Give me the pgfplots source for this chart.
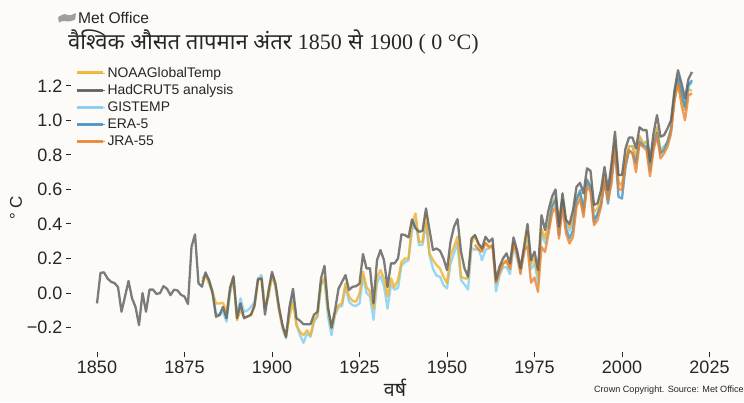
\documentclass[border=0pt]{standalone}
\usepackage{fontspec}
\usepackage{pgfplots}
\pgfplotsset{compat=1.18}
\setmainfont{Liberation Sans}
\newfontfamily\deva[Script=Devanagari]{Noto Sans}
\newfontfamily\serif{Liberation Serif}
\definecolor{bg}{HTML}{FCFBF8}
\definecolor{noaa}{HTML}{F0B02C}
\definecolor{had}{HTML}{5C5C5C}
\definecolor{gis}{HTML}{80CDF2}
\definecolor{era}{HTML}{3D94CB}
\definecolor{jra}{HTML}{E8822F}
\definecolor{txt}{HTML}{262626}
\pgfplotsset{ser/.style={line width=2.3pt, no markers, line join=round, opacity=0.8}}
\begin{document}
\begin{tikzpicture}[x=1pt,y=1pt]
\path[use as bounding box, fill=bg] (0,0) rectangle (744,402);
\begin{axis}[
    at={(71pt,50pt)}, anchor=south west,
    scale only axis, width=649pt, height=292pt,
    xmin=1842.57, xmax=2028, ymin=-0.341, ymax=1.349,
    axis line style={draw=none},
    axis x line*=bottom, axis y line*=left,
    tick align=outside, major tick length=5pt,
    tick style={txt, line width=1pt},
    xtick={1850,1875,1900,1925,1950,1975,2000,2025},
    xticklabels={1850,1875,1900,1925,1950,1975,2000,2025},
    ytick={-0.2,0,0.2,0.4,0.6,0.8,1.0,1.2},
    yticklabels={−0.2,0.0,0.2,0.4,0.6,0.8,1.0,1.2},
    tick label style={font=\fontsize{18}{18}\selectfont, text=txt},
    legend style={at={(0pt,287pt)}, anchor=north west, draw=none, fill=none,
        font=\fontsize{13.9}{14}\selectfont, text=txt, row sep=1.9pt,
        inner sep=0pt, outer sep=0pt, xshift=5pt, legend cell align=left},
    legend image code/.code={\draw[#1, line width=2.6pt] (0pt,0pt) -- (26pt,0pt);\path (0pt,0pt) -- (28pt,0pt);},
    clip=false,
]
\addlegendimage{noaa, opacity=0.85}
\addlegendentry{NOAAGlobalTemp}
\addlegendimage{had, opacity=0.85}
\addlegendentry{HadCRUT5 analysis}
\addlegendimage{gis, opacity=0.85}
\addlegendentry{GISTEMP}
\addlegendimage{era, opacity=0.85}
\addlegendentry{ERA-5}
\addlegendimage{jra, opacity=0.85}
\addlegendentry{JRA-55}

% GISTEMP
\addplot[ser, gis, forget plot] coordinates {
(1880,0.084)(1881,0.104)(1882,0.075)(1883,0.017)(1884,-0.118)(1885,-0.128)(1886,-0.108)(1887,-0.166)(1888,-0.002)(1889,0.075)
(1890,-0.128)(1891,-0.03)(1892,-0.108)(1893,-0.10)(1894,-0.08)(1895,-0.05)(1896,0.084)(1897,0.104)(1898,-0.09)(1899,-0.012)
(1900,0.104)(1901,0.036)(1902,-0.10)(1903,-0.205)(1904,-0.263)(1905,-0.108)(1906,-0.012)(1907,-0.186)(1908,-0.244)(1909,-0.288)
(1910,-0.234)(1911,-0.253)(1912,-0.166)(1913,-0.137)(1914,0.046)(1915,0.075)(1916,-0.137)(1917,-0.244)(1918,-0.128)(1919,-0.08)
(1920,-0.076)(1921,0.04)(1922,-0.05)(1923,-0.07)(1924,-0.075)(1925,-0.06)(1926,0.10)(1927,0.0)(1928,-0.02)(1929,-0.155)
(1930,0.06)(1931,0.10)(1932,0.04)(1933,-0.09)(1934,0.05)(1935,0.02)(1936,0.03)(1937,0.16)(1938,0.18)(1939,0.19)
(1940,0.365)(1941,0.42)(1942,0.277)(1943,0.28)(1944,0.40)(1945,0.22)(1946,0.14)(1947,0.10)(1948,0.095)(1949,0.046)
(1950,0.027)(1951,0.17)(1952,0.23)(1953,0.29)(1954,0.075)(1955,0.05)(1956,0.02)(1957,0.26)(1958,0.25)(1959,0.26)
(1960,0.19)(1961,0.25)(1962,0.26)(1963,0.28)(1964,0.01)(1965,0.10)(1966,0.15)(1967,0.15)(1968,0.11)(1969,0.27)
(1970,0.20)(1971,0.12)(1972,0.22)(1973,0.33)(1974,0.14)(1975,0.17)(1976,0.065)(1977,0.35)(1978,0.29)(1979,0.38)
(1980,0.51)(1981,0.56)(1982,0.37)(1983,0.54)(1984,0.40)(1985,0.36)(1986,0.41)(1987,0.55)(1988,0.57)(1989,0.46)
(1990,0.64)(1991,0.61)(1992,0.43)(1993,0.45)(1994,0.52)(1995,0.67)(1996,0.56)(1997,0.68)(1998,0.86)(1999,0.64)
(2000,0.63)(2001,0.76)(2002,0.85)(2003,0.85)(2004,0.76)(2005,0.90)(2006,0.86)(2007,0.88)(2008,0.75)(2009,0.87)
(2010,0.95)(2011,0.83)(2012,0.85)(2013,0.87)(2014,0.95)(2015,1.12)(2016,1.25)(2017,1.15)(2018,1.06)(2019,1.20)(2020,1.22)
};
% NOAAGlobalTemp
\addplot[ser, noaa, forget plot] coordinates {
(1880,0.065)(1881,0.104)(1882,0.055)(1883,0.007)(1884,-0.06)(1885,-0.06)(1886,-0.056)(1887,-0.108)(1888,0.017)(1889,0.084)
(1890,-0.157)(1891,-0.10)(1892,-0.137)(1893,-0.137)(1894,-0.128)(1895,-0.08)(1896,0.075)(1897,0.084)(1898,-0.08)(1899,-0.02)
(1900,0.104)(1901,0.036)(1902,-0.10)(1903,-0.195)(1904,-0.253)(1905,-0.137)(1906,-0.05)(1907,-0.186)(1908,-0.224)(1909,-0.244)
(1910,-0.215)(1911,-0.244)(1912,-0.157)(1913,-0.128)(1914,0.055)(1915,0.09)(1916,-0.09)(1917,-0.205)(1918,-0.118)(1919,-0.07)
(1920,-0.06)(1921,0.056)(1922,-0.02)(1923,-0.045)(1924,-0.05)(1925,-0.002)(1926,0.124)(1927,0.036)(1928,0.007)(1929,-0.089)
(1930,0.094)(1931,0.133)(1932,0.085)(1933,-0.02)(1934,0.085)(1935,0.036)(1936,0.075)(1937,0.181)(1938,0.20)(1939,0.20)
(1940,0.403)(1941,0.461)(1942,0.297)(1943,0.297)(1944,0.451)(1945,0.229)(1946,0.191)(1947,0.162)(1948,0.143)(1949,0.094)
(1950,0.056)(1951,0.22)(1952,0.268)(1953,0.326)(1954,0.094)(1955,0.085)(1956,0.085)(1957,0.29)(1958,0.33)(1959,0.28)
(1960,0.25)(1961,0.29)(1962,0.26)(1963,0.28)(1964,0.06)(1965,0.12)(1966,0.17)(1967,0.18)(1968,0.14)(1969,0.29)
(1970,0.23)(1971,0.14)(1972,0.24)(1973,0.36)(1974,0.17)(1975,0.20)(1976,0.10)(1977,0.37)(1978,0.32)(1979,0.40)
(1980,0.52)(1981,0.55)(1982,0.42)(1983,0.55)(1984,0.42)(1985,0.38)(1986,0.43)(1987,0.56)(1988,0.58)(1989,0.47)
(1990,0.66)(1991,0.62)(1992,0.47)(1993,0.49)(1994,0.55)(1995,0.68)(1996,0.55)(1997,0.71)(1998,0.88)(1999,0.64)
(2000,0.62)(2001,0.77)(2002,0.85)(2003,0.85)(2004,0.79)(2005,0.91)(2006,0.87)(2007,0.87)(2008,0.75)(2009,0.87)
(2010,0.96)(2011,0.81)(2012,0.84)(2013,0.88)(2014,0.95)(2015,1.12)(2016,1.23)(2017,1.13)(2018,1.06)(2019,1.18)(2020,1.17)
};
% ERA-5
\addplot[ser, era, forget plot] coordinates {
(1979,0.373)(1980,0.499)(1981,0.537)(1982,0.335)(1983,0.537)(1984,0.373)(1985,0.316)(1986,0.364)(1987,0.537)(1988,0.595)(1989,0.48)
(1990,0.653)(1991,0.615)(1992,0.412)(1993,0.46)(1994,0.508)(1995,0.653)(1996,0.518)(1997,0.663)(1998,0.846)(1999,0.557)
(2000,0.547)(2001,0.73)(2002,0.827)(2003,0.808)(2004,0.75)(2005,0.875)(2006,0.856)(2007,0.846)(2008,0.711)(2009,0.846)
(2010,0.927)(2011,0.808)(2012,0.827)(2013,0.875)(2014,0.943)(2015,1.145)(2016,1.242)(2017,1.155)(2018,1.078)(2019,1.203)(2020,1.232)
};
% JRA-55
\addplot[ser, jra, forget plot] coordinates {
(1958,0.28)(1959,0.25)(1960,0.24)(1961,0.29)(1962,0.27)(1963,0.27)(1964,0.06)(1965,0.12)(1966,0.17)(1967,0.19)(1968,0.14)(1969,0.29)
(1970,0.23)(1971,0.11)(1972,0.25)(1973,0.27)(1974,0.06)(1975,0.09)(1976,0.007)(1977,0.267)(1978,0.238)(1979,0.345)
(1980,0.46)(1981,0.50)(1982,0.315)(1983,0.50)(1984,0.345)(1985,0.287)(1986,0.325)(1987,0.50)(1988,0.547)(1989,0.44)
(1990,0.62)(1991,0.586)(1992,0.393)(1993,0.422)(1994,0.50)(1995,0.653)(1996,0.537)(1997,0.634)(1998,0.837)(1999,0.605)
(2000,0.595)(2001,0.74)(2002,0.827)(2003,0.808)(2004,0.70)(2005,0.866)(2006,0.846)(2007,0.827)(2008,0.676)(2009,0.827)
(2010,0.914)(2011,0.779)(2012,0.808)(2013,0.846)(2014,0.923)(2015,1.116)(2016,1.213)(2017,1.09)(2018,1.0)(2019,1.145)(2020,1.155)
};
% HadCRUT5 analysis
\addplot[ser, had, forget plot] coordinates {
(1850,-0.06)(1851,0.117)(1852,0.12)(1853,0.085)(1854,0.065)(1855,0.058)(1856,0.035)(1857,-0.108)(1858,-0.02)(1859,0.07)
(1860,-0.03)(1861,-0.08)(1862,-0.185)(1863,0.0)(1864,-0.108)(1865,0.02)(1866,0.02)(1867,-0.005)(1868,0.0)(1869,0.04)
(1870,0.025)(1871,-0.012)(1872,0.02)(1873,0.015)(1874,-0.01)(1875,-0.02)(1876,-0.063)(1877,0.268)(1878,0.34)(1879,0.056)
(1880,0.037)(1881,0.12)(1882,0.075)(1883,0.0)(1884,-0.137)(1885,-0.127)(1886,-0.08)(1887,-0.146)(1888,0.03)(1889,0.098)
(1890,-0.146)(1891,-0.06)(1892,-0.146)(1893,-0.135)(1894,-0.125)(1895,-0.07)(1896,0.08)(1897,0.085)(1898,-0.125)(1899,0.015)
(1900,0.123)(1901,0.055)(1902,-0.08)(1903,-0.185)(1904,-0.253)(1905,-0.08)(1906,0.025)(1907,-0.146)(1908,-0.16)(1909,-0.18)
(1910,-0.18)(1911,-0.18)(1912,-0.125)(1913,-0.108)(1914,0.085)(1915,0.158)(1916,-0.08)(1917,-0.2)(1918,-0.1)(1919,0.025)
(1920,0.065)(1921,0.104)(1922,0.018)(1923,0.036)(1924,0.04)(1925,0.055)(1926,0.226)(1927,0.143)(1928,0.143)(1929,-0.06)
(1930,0.19)(1931,0.249)(1932,0.19)(1933,0.036)(1934,0.172)(1935,0.172)(1936,0.20)(1937,0.34)(1938,0.336)(1939,0.322)
(1940,0.426)(1941,0.375)(1942,0.355)(1943,0.36)(1944,0.49)(1945,0.365)(1946,0.249)(1947,0.258)(1948,0.245)(1949,0.20)
(1950,0.133)(1951,0.297)(1952,0.384)(1953,0.428)(1954,0.24)(1955,0.143)(1956,0.095)(1957,0.316)(1958,0.336)(1959,0.287)
(1960,0.258)(1961,0.326)(1962,0.297)(1963,0.316)(1964,0.075)(1965,0.153)(1966,0.20)(1967,0.23)(1968,0.172)(1969,0.322)
(1970,0.249)(1971,0.143)(1972,0.268)(1973,0.40)(1974,0.19)(1975,0.24)(1976,0.133)(1977,0.451)(1978,0.365)(1979,0.48)
(1980,0.557)(1981,0.60)(1982,0.384)(1983,0.577)(1984,0.423)(1985,0.40)(1986,0.48)(1987,0.615)(1988,0.638)(1989,0.577)
(1990,0.722)(1991,0.708)(1992,0.51)(1993,0.52)(1994,0.596)(1995,0.73)(1996,0.596)(1997,0.75)(1998,0.934)(1999,0.683)
(2000,0.683)(2001,0.837)(2002,0.90)(2003,0.90)(2004,0.837)(2005,0.96)(2006,0.943)(2007,0.943)(2008,0.76)(2009,0.924)
(2010,1.03)(2011,0.905)(2012,0.914)(2013,0.953)(2014,1.0)(2015,1.175)(2016,1.29)(2017,1.214)(2018,1.126)(2019,1.24)(2020,1.28)
};
\end{axis}
% Met Office flag and label
\fill[gray!75, rounded corners=0.8pt] (58,385) -- (64,388) -- (70,386.5) -- (76,389) -- (75,382) -- (69,380.5) -- (62,381) -- (59,379) -- cycle;
\node[anchor=west, inner sep=0pt, text=txt, font=\fontsize{15.6}{16}\selectfont] at (78,384) {Met Office};
% title
\node[anchor=west, inner sep=0pt, text=txt, font=\fontsize{22}{22}\selectfont] at (68,360)
  {{\deva वैश्विक औसत तापमान अंतर} {\serif 1850} {\deva से} {\serif 1900 ( 0 °C)}};
% axis titles
\node[rotate=90, inner sep=0pt, text=txt, font=\fontsize{17}{18}\selectfont] at (16,194) {° C};
\node[inner sep=0pt, text=txt, font=\deva\fontsize{19.5}{20}\selectfont] at (395,14.5) {वर्ष};
\node[anchor=east, inner sep=0pt, text=txt, font=\fontsize{9.1}{9.5}\selectfont] at (744,12) {Crown Copyright. Source: Met Office};
\end{tikzpicture}
\end{document}
